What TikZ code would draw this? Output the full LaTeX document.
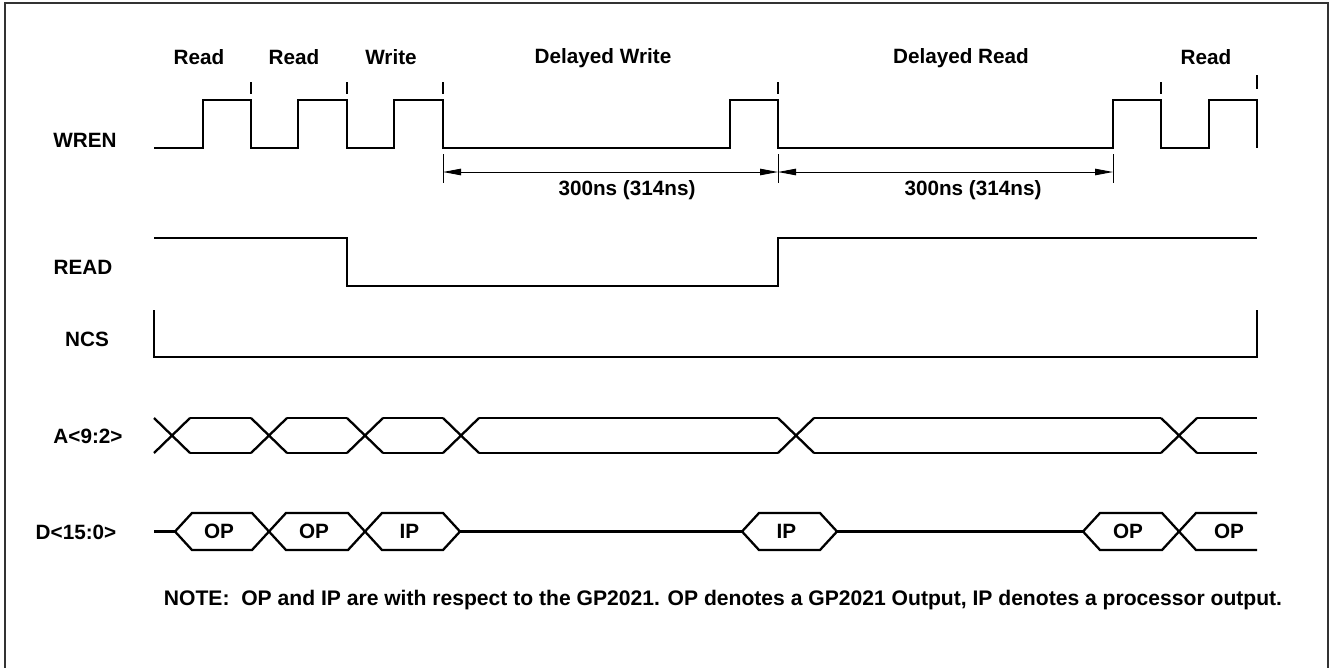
\documentclass[tikz,border=0pt]{standalone}
\usepackage{fontspec}
\setmainfont{Liberation Sans}
\usetikzlibrary{arrows.meta}

\begin{document}
\begin{tikzpicture}[x=1pt, y=-1pt,
    sig/.style={line width=2.3pt, line join=miter},
    dimline/.style={line width=0.9pt},
    lbl/.style={font=\fontsize{20.7}{24}\selectfont\bfseries, inner sep=0pt},
    notetxt/.style={font=\fontsize{21.1}{24}\selectfont\bfseries, inner sep=0pt}]
  \useasboundingbox (0, 0) rectangle (1333, 667);

  % Frame
  \draw[line width=2pt, black!80] (4.5, 670) |- (1328, 3) -- (1328, 670);

  % Cycle labels
  \node[lbl] (cyc1) at (199, 57) {Read};
  \node[lbl] (cyc2) at (294, 57) {Read};
  \node[lbl] (cyc3) at (391, 57) {Write};
  \node[lbl] (cyc4) at (603, 58) {Delayed Write};
  \node[lbl] (cyc5) at (961, 58) {Delayed Read};
  \node[lbl] (cyc6) at (1206, 57) {Read};

  % Signal names
  \node[lbl] (wren) at (85, 140) {WREN};
  \node[lbl] (read) at (83, 267) {READ};
  \node[lbl] (ncs) at (87, 339) {NCS};
  \node[lbl] (addr) at (88, 436) {A<9:2>};
  \node[lbl] (data) at (76, 532) {D<15:0>};

  % WREN
  \draw[sig] (154, 148) -| (203, 100) -| (251, 148) -| (298, 100) -| (347, 148)
    -| (394, 100) -| (443, 148) -| (730, 100) -| (778, 148) -| (1113, 100)
    -| (1161, 148) -| (1209, 100) -| (1257, 148);
  \foreach \t in {251, 347, 443, 778, 1161}
    \draw[sig] (\t, 82) -- (\t, 94);
  \draw[sig] (1257, 75) -- (1257, 89);

  % Cycle timing
  \foreach \t in {443, 778, 1113}
    \draw[dimline] (\t, 154) -- (\t, 183);
  \coordinate (dw1) at (443, 172);
  \coordinate (dw2) at (778, 172);
  \coordinate (dr2) at (1113, 172);
  \draw[dimline, {Triangle[length=18pt, width=6.5pt]}-{Triangle[length=18pt, width=6.5pt]}] (dw1) -- (dw2);
  \draw[dimline, {Triangle[length=18pt, width=6.5pt]}-{Triangle[length=18pt, width=6.5pt]}] (dw2) -- (dr2);
  \node[lbl] (tw) at (627, 190) {300ns (314ns)};
  \node[lbl] (tr) at (973, 190) {300ns (314ns)};

  % READ and NCS
  \draw[sig] (154, 238) -| (347, 286) -| (778, 238) -- (1257, 238);
  \draw[sig] (154, 310) |- (1257, 357) -- (1257, 310);

  % Address bus
  \foreach \a/\b in {172/269, 269/365, 365/461, 461/796, 796/1179}
    \draw[sig] (\a+18, 418) -- (\b-18, 418) (\a+18, 453) -- (\b-18, 453);
  \foreach \c in {172, 269, 365, 461, 796, 1179}
    \draw[sig] (\c-18, 418) -- (\c+18, 453) (\c-18, 453) -- (\c+18, 418);
  \draw[sig] (1197, 418) -- (1257, 418) (1197, 453) -- (1257, 453);

  % Data bus
  \draw[sig] (154, 531.5) -- (175, 531.5) (460, 531.5) -- (742, 531.5)
    (837, 531.5) -- (1083, 531.5);
  \foreach \a/\b/\v [count=\i] in {175/269/OP, 269/365/OP, 365/460/IP, 742/837/IP, 1083/1179/OP} {
    \draw[sig] (\a, 531.5) -- (\a+17, 513) -- (\b-17, 513) -- (\b, 531.5)
      -- (\b-17, 550) -- (\a+17, 550) -- cycle;
    \node[lbl] (dval\i) at ({(\a+\b)/2-3}, 531.5) {\v};
  }
  \draw[sig] (1257, 513) -- (1196, 513) -- (1179, 531.5) -- (1196, 550) -- (1257, 550);
  \node[lbl] (dval6) at (1229, 531.5) {OP};

  % Note
  \node[notetxt] (note) at (723, 600) {NOTE:\ \ OP and IP are with respect to the GP2021. OP denotes a GP2021 Output, IP denotes a processor output.};
\end{tikzpicture}
\end{document}
